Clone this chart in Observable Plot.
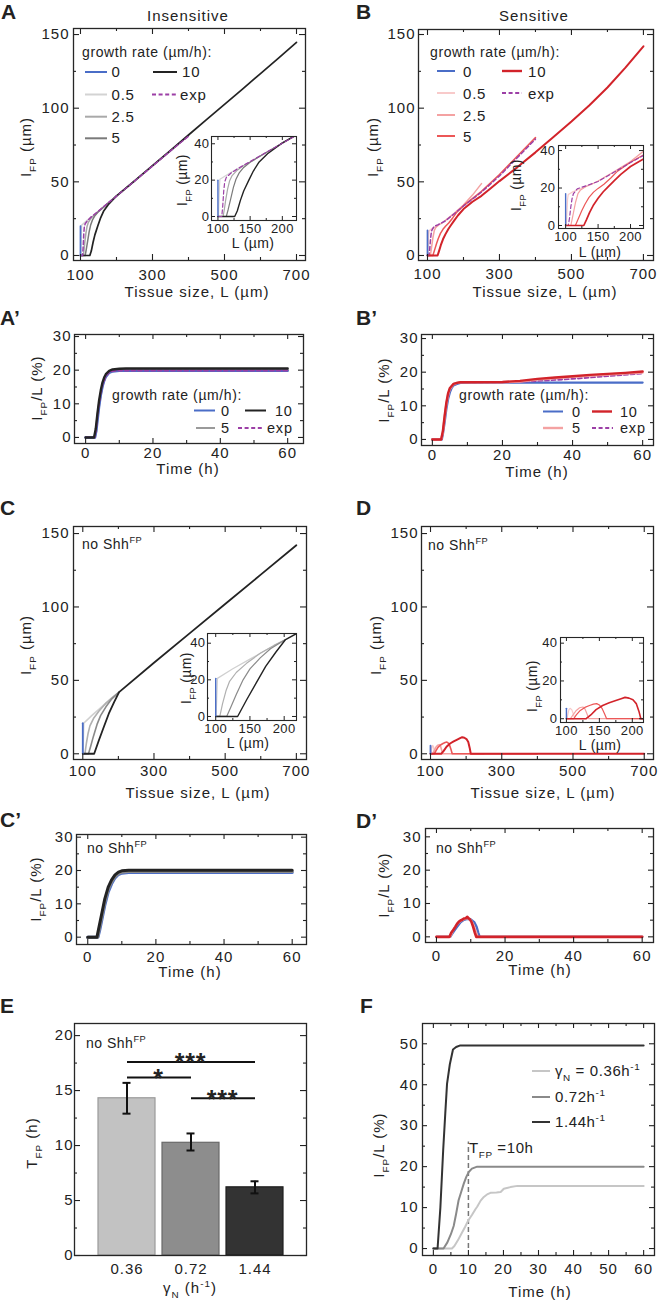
<!DOCTYPE html>
<html><head><meta charset="utf-8">
<script src="https://cdn.jsdelivr.net/npm/d3@7"></script>
<script src="https://cdn.jsdelivr.net/npm/@observablehq/plot@0.6"></script>
<style>
html,body{margin:0;padding:0;background:#fff;}
#fig{position:relative;width:661px;height:1304px;overflow:hidden;background:#fff;}
</style></head><body><div id="fig"></div>
<script>
// ---------- DATA ----------
// A: insensitive, tissue size L (µm) vs I_FP (µm)
const insL_v0 = [[100,0],[100,20]];
const insL_v05 = [[100,0],[100.8,0],[101.5,8],[102.3,16],[103,20.5],[110,22],[120,24.2],[130,26.3]];
const insL_v25 = [[100,0],[108,0],[110,4],[112,9],[115,15],[118,19.5],[122,22.5],[130,25.5],[140,28],[150,30],[175,35.2],[200,40.3],[225,45.4],[250,50.5]];
const insL_v5 = [[100,0],[113,0],[116,4],[120,10],[124,16],[128,20.5],[133,24],[140,27],[150,29.8],[160,32],[175,35.2],[200,40.3],[250,50.5],[300,60.8],[350,71],[400,81.3]];
const insL_v10 = [[100,0],[126,0],[130,3],[135,9],[140,14],[148,20],[155,25],[164,30],[177,34.5],[200,40.5],[250,50.6],[300,61],[350,71.3],[400,81.8],[450,92.2],[500,102.6],[550,113],[600,123.5],[650,134],[700,144.7]];
const insL_exp = [[100,0],[106,0],[107.5,6],[109,14],[110.5,19],[113,21.5],[120,23.8],[130,26.2],[150,30.2],[175,35.3],[200,40.3],[250,50.5],[300,60.7],[350,71],[400,81]];
// B: sensitive, L vs I_FP
const senL_v0 = [[100,0],[100,17]];
const senL_v05 = [[100,0],[101,0],[102,7],[103,14],[104,16.5],[110,17.8],[120,19.2],[130,20.5]];
const senL_v25 = [[100,0],[108,0],[111,5],[115,12],[119,17],[123,19],[130,20.6],[140,22],[150,23.8],[175,28.8],[200,34.2],[225,41],[250,48.8]];
const senL_v5 = [[100,0],[115,0],[120,4],[125,8],[130,11.5],[136,15],[143,17.8],[150,19.8],[159,22],[170,25.5],[180,29],[200,33.8],[250,43.5],[300,55],[350,67.5],[400,80]];
const senL_v10 = [[100,0],[128,0],[132,3],[137,7],[143,11],[150,14.5],[158,18],[165,20.5],[175,24],[185,27.3],[200,31.5],[225,36.5],[250,40.5],[275,45.5],[300,50.5],[350,60],[400,70],[450,80.5],[500,91],[550,102],[600,114],[650,127.5],[700,142]];
const senL_exp = [[100,0],[104,0],[106,4],[108,10],[110,14.5],[112,17],[118,19.6],[130,21],[150,23.5],[175,28.5],[200,33.6],[250,43],[300,54],[350,66.5],[400,79]];
// A': insensitive, time (h) vs I_FP/L (%)
const insT_v0 = [[0,0],[2.8,0],[3.2,2],[3.6,5.5],[4,9],[4.5,12.5],[5,15],[5.5,16.8],[6,18],[7,19.2],[8,19.6],[10,19.8],[60,19.8]];
const insT_v5 = [[0,0],[2.7,0],[3.1,2],[3.5,6],[4,9.8],[4.5,13],[5,15.5],[5.5,17.2],[6,18.3],[7,19.4],[8,19.8],[10,20],[60,20]];
const insT_v10 = [[0,0],[2.5,0],[3,2.5],[3.5,7],[4,11],[4.5,14],[5,16.3],[5.5,17.8],[6,18.8],[7,19.8],[8,20.2],[10,20.4],[12,20.5],[60,20.5]];
const insT_exp = [[0,0],[2.7,0],[3.1,2],[3.5,6],[4,9.8],[4.5,13],[5,15.5],[6,18.2],[7,19.3],[8,19.7],[10,19.9],[60,19.9]];
// B': sensitive, time vs I_FP/L
const senT_v0 = [[0,0],[2.7,0],[3,1.5],[3.5,5],[4,9],[4.5,12],[5,14],[5.5,15.3],[6,16],[7,16.5],[8,16.8],[10,16.9],[60,16.9]];
const senT_v5 = [[0,0],[2.5,0],[3,2],[3.5,6.5],[4,10.5],[4.5,13.3],[5,15],[6,16.4],[7,16.8],[8,17],[10,17],[20,17],[25,17.2],[30,17.8],[40,18.6],[50,19.3],[60,19.9]];
const senT_v10 = [[0,0],[2.5,0],[3,2.5],[3.5,7],[4,11],[4.5,13.8],[5,15.3],[6,16.5],[7,16.8],[8,17],[10,17],[20,17.1],[25,17.4],[30,18],[35,18.4],[40,18.8],[45,19.2],[50,19.5],[55,19.8],[60,20.2]];
const senT_exp = [[0,0],[2.7,0],[3,2],[3.5,6.5],[4,10.5],[5,15],[6,16.4],[8,17],[20,17],[25,17.1],[30,17.4],[40,18],[50,18.8],[60,19.6]];
// C: no Shh^FP, insensitive, L vs I_FP
const noInsL_v0 = [[100,0],[100,20.8]];
const noInsL_v05 = [[100,0],[100.5,0],[101.5,10],[102.5,20.8],[125,26],[150,31.3],[175,36.6],[202,42]];
const noInsL_v25 = [[100,0],[106,0],[110,7],[115,14],[120,19],[130,24],[145,29],[165,34.5],[185,38.8],[202,42]];
const noInsL_v5 = [[100,0],[116,0],[122,5],[130,12],[140,20],[150,26],[165,32],[180,37],[202,42]];
const noInsL_v10 = [[100,0],[132,0],[145,9],[159,18.2],[173,27.3],[188,35.2],[202,42],[300,62],[400,82],[500,102],[600,122],[700,142]];
// C': no Shh^FP, insensitive, time
const noInsT_v0 = [[0,0],[3,0],[3.5,2],[4,4.5],[5,9.5],[6,13.5],[7,16],[8,17.8],[9,18.8],[10,19.2],[12,19.4],[60,19.4]];
const noInsT_v5 = [[0,0],[2.9,0],[3.4,2.5],[4,5.5],[5,10.5],[6,14.3],[7,16.6],[8,18.2],[9,19.1],[10,19.5],[12,19.7],[60,19.7]];
const noInsT_v10 = [[0,0],[2.7,0],[3.3,3],[4,6.5],[5,11.5],[6,15],[7,17.2],[8,18.7],[9,19.5],[10,19.9],[12,20.1],[60,20.1]];
// D: no Shh^FP, sensitive, L vs I_FP
const noSenL_v0 = [[100,0],[100,5.5]];
const noSenL_v05 = [[100,0],[101,0],[102.5,3],[104,5],[106,5.5],[108.5,4.5],[111,2],[113,0],[130,0]];
const noSenL_v25 = [[100,0],[106,0],[110,2],[115,4.4],[120,5.8],[125,6.2],[128,5.3],[131,2.8],[134,0],[250,0]];
const noSenL_v5 = [[100,0],[111,0],[115,2],[121,4.4],[128,6],[135,7],[141,7.7],[146,8],[150,7.3],[154,5.5],[158,2.5],[161,0],[400,0]];
const noSenL_v10 = [[100,0],[130,0],[137,2],[145,4.8],[155,7],[165,8.4],[175,9.6],[183,10.6],[189,11.3],[195,10.9],[201,10],[206,8],[210,4],[213,0],[700,0]];
// D': no Shh^FP, sensitive, time
const noSenT_v0 = [[0,0],[4,0],[4.5,0.8],[5,1.6],[6,3],[7,4.4],[8,5.1],[9,5.4],[10,5.2],[11,4.4],[11.7,3],[12.2,1.2],[12.6,0],[60,0]];
const noSenT_v5 = [[0,0],[3.9,0],[4.5,1.2],[5,2.3],[6,3.8],[7,4.8],[8,5.3],[9,5.6],[10,5],[10.8,3.5],[11.5,1.5],[12,0],[60,0]];
const noSenT_v10 = [[0,0],[3.8,0],[4.3,1.2],[5,2.2],[5.5,3],[6,3.9],[6.5,4.5],[7,4.9],[7.5,5.1],[8,5.5],[8.5,5.6],[9,6],[9.3,5.6],[9.7,5.3],[10.2,4.5],[10.7,3],[11.2,1.2],[11.6,0],[60,0]];
// E: T_FP vs gamma_N
const gammaN = ["0.36","0.72","1.44"];
const tFP = [14.3, 10.25, 6.2];
const tFPlo = [12.9, 9.55, 5.65];
const tFPhi = [15.7, 11.1, 6.75];
const sigFrom = ["0.36","0.36","0.72"];
const sigTo = ["1.44","0.72","1.44"];
const sigY = [17.6, 16.2, 14.3];
const sigLabel = ["***","*","***"];
// F: time vs I_FP/L for three gamma_N
const fT036 = [[0,0],[5.3,0],[6,0.6],[7,2],[8,3.6],[9,5.2],[10,6.9],[11,8.2],[12,9.6],[12.5,10.2],[13.5,11.7],[14.4,12.6],[15.5,13.3],[16.3,13.6],[18,13.7],[19.2,13.8],[20.1,14.6],[22,15],[24,15.3],[60,15.3]];
const fT072 = [[0,0],[2.9,0],[4,1.5],[5,3.5],[5.8,5.5],[6.5,8.5],[7.2,11.8],[8,14],[8.7,15.9],[9.4,17.5],[10.1,18.7],[11,19.5],[12.5,20],[60,20]];
const fT144 = [[0,0],[1.2,0],[2,10],[2.8,24],[3.4,33],[3.9,40.2],[4.7,45],[5.6,48.6],[6.5,49.2],[7.7,49.6],[60,49.6]];
const fTmark = [10];
const fTmarkTop = 26;
// ticks
const tickL = [100,300,500,700], minorL = [200,400,600];
const tickI = [0,50,100,150], minorI = [25,75,125];
const tickLin = [100,150,200], minorLin = [125,175];
const tickIin = [0,20,40], minorIin = [10,30];
const tickT = [0,20,40,60], minorT = [10,30,50];
const tickPct = [0,10,20,30], minorPct = [5,15,25];
const tickTF = [0,10,20,30,40,50,60], minorTF = [5,15,25,35,45,55];
const tickPctF = [0,10,20,30,40,50], minorPctF = [5,15,25,35,45];
const tickTE = [0,5,10,15,20], minorTE = [2.5,7.5,12.5,17.5];

// ---------- STYLE ----------
const W = 661, H = 1304;
const FONT = '"Liberation Sans", Arial, Helvetica, sans-serif';
const INK = "#222";
const BLUE = "#4a6dc7", EXPC = "#9c3fa6";
const G05 = "#d3d3d3", G25 = "#a9a9a9", G5 = "#7a7a7a", G10 = "#232323";
const R05 = "#f8caca", R25 = "#f4a2a2", R5 = "#ec5757", R10 = "#d2232a";
const barFill = ["#c2c2c2", "#8d8d8d", "#333333"];
const barStroke = ["#9a9a9a", "#6a6a6a", "#1e1e1e"];
const FIG = document.getElementById("fig");
const P = d => d[0], Q = d => d[1];

function ln(data, stroke, sw = 1.5, extra = {}) {
  return Plot.line(data, {x: P, y: Q, stroke, strokeWidth: sw, strokeLinejoin: "round", ...extra});
}
const dash = {strokeDasharray: "4,2.6"};

function panel(o) {
  const [l, r, t, b] = o.frame;
  const fw = r - l, fh = b - t;
  const M = o.major ?? 6, m = o.minor ?? 3, tw = o.tw ?? 1.1;
  const tk = {stroke: INK, strokeWidth: tw};
  const marks = [];
  if (o.bg) marks.push(Plot.frame({fill: "#fff", stroke: "none"}));
  marks.push(...o.marks);
  const xT = (vals, len) => marks.push(Plot.ruleX(vals, {...tk, insetTop: fh - len}), Plot.ruleX(vals, {...tk, insetBottom: fh - len}));
  const yT = (vals, len) => marks.push(Plot.ruleY(vals, {...tk, insetRight: fw - len}), Plot.ruleY(vals, {...tk, insetLeft: fw - len}));
  if (o.xt) xT(o.xt, M);
  if (o.xm) xT(o.xm, m);
  if (o.yt) yT(o.yt, M);
  if (o.ym) yT(o.ym, m);
  marks.push(Plot.frame({stroke: "#262626", strokeWidth: o.fw ?? 1.3}));
  marks.push(Plot.axisX(o.xl ?? o.xt, {anchor: "bottom", tickSize: 0, tickPadding: o.xpad ?? 8, label: null, fontSize: o.fs ?? 15, fill: INK}));
  marks.push(Plot.axisY(o.yl ?? o.yt, {anchor: "left", tickSize: 0, tickPadding: o.ypad ?? 4, label: null, fontSize: o.fs ?? 15, fill: INK}));
  const svg = Plot.plot({
    width: W, height: H,
    marginLeft: l, marginRight: W - r, marginTop: t, marginBottom: H - b,
    x: o.x, y: o.y, color: o.color,
    style: `position:absolute;left:0;top:0;background:transparent;max-width:none;overflow:visible;font-family:${FONT};letter-spacing:${o.ls ?? 1}px;color:${INK}`,
    marks
  });
  FIG.appendChild(svg);
  return svg;
}

function txt(svg, x, y, parts, o = {}) {
  const size = o.size ?? 15;
  const t = d3.select(svg).append("text")
    .attr("transform", `translate(${x},${y})${o.rotate ? ` rotate(${o.rotate})` : ""}`)
    .attr("text-anchor", o.anchor ?? "start")
    .attr("font-size", size)
    .attr("fill", o.fill ?? INK)
    .style("letter-spacing", (o.ls ?? 0.8) + "px");
  if (o.weight) t.attr("font-weight", o.weight);
  let cur = 0;
  for (const p of [].concat(parts)) {
    const [s, k] = Array.isArray(p) ? p : [p, ""];
    const off = k === "sub" ? 0.33 : k === "sup" ? -0.42 : 0;
    const ts = t.append("tspan").text(s).attr("font-size", k ? (size * 0.66).toFixed(2) : size);
    if (off !== cur) ts.attr("dy", ((off - cur) * size).toFixed(2));
    cur = off;
  }
  return t;
}
function sw(svg, x1, x2, y, color, width = 2, dashed = false) {
  const s = d3.select(svg).append("line").attr("x1", x1).attr("x2", x2).attr("y1", y).attr("y2", y)
    .attr("stroke", color).attr("stroke-width", width);
  if (dashed) s.attr("stroke-dasharray", "4,2.6");
}
const IFP = ["I", ["FP", "sub"], " (µm)"];
const IFPL = ["I", ["FP", "sub"], "/L (%)"];
const NOSHH = ["no Shh", ["FP", "sup"]];

// ---------- PANEL A ----------
const aMarks = (w, clip) => [
  ln(insL_v05, G05, w, {clip}), ln(insL_v25, G25, w, {clip}), ln(insL_v5, G5, w, {clip}),
  ln(insL_v10, G10, w + 0.2, {clip}), ln(insL_exp, EXPC, w, {...dash, clip}), ln(insL_v0, BLUE, w + 0.2, {clip})
];
const svgA = panel({frame: [73, 305, 28, 260], x: {domain: [80.6, 725]}, y: {domain: [-3.4, 154.1]},
  xt: tickL, xm: minorL, yt: tickI, ym: minorI, xpad: 9, ypad: 4, marks: aMarks(1.5, false)});
txt(svgA, 1, 19, "A", {size: 21, weight: "bold", ls: 0});
txt(svgA, 188, 21, "Insensitive", {anchor: "middle", ls: 1});
txt(svgA, 31, 147, IFP, {rotate: -90, anchor: "middle", ls: 1});
txt(svgA, 197, 297, "Tissue size, L (µm)", {anchor: "middle", ls: 1});
txt(svgA, 82, 56.5, "growth rate (µm/h):", {size: 14, ls: 0.6});
[[BLUE, "0", 72, 77.3], [G05, "0.5", 94.5, 100], [G25, "2.5", 116.7, 121.7], [G5, "5", 138.3, 143.3]]
  .forEach(([c, s, y, yb]) => { sw(svgA, 85, 107, y, c); txt(svgA, 111.5, yb, s, {ls: 0.8}); });
sw(svgA, 153, 177, 72, G10); txt(svgA, 182, 77.3, "10", {ls: 0.8});
sw(svgA, 152, 176, 94.5, EXPC, 1.8, true); txt(svgA, 180, 100, "exp", {ls: 0.8});

// ---------- PANEL B ----------
const bMarks = (w, clip) => [
  ln(senL_v05, R05, w, {clip}), ln(senL_v25, R25, w, {clip}), ln(senL_v5, R5, w, {clip}),
  ln(senL_exp, EXPC, w, {...dash, clip}), ln(senL_v10, R10, w + 0.5, {clip}), ln(senL_v0, BLUE, w + 0.2, {clip})
];
const svgB = panel({frame: [418, 653, 29, 260], x: {domain: [75, 728]}, y: {domain: [-3.4, 153.4]},
  xt: tickL, xm: minorL, yt: tickI, ym: minorI, xpad: 8, ypad: 3, marks: bMarks(1.5, false)});
txt(svgB, 356, 19, "B", {size: 21, weight: "bold", ls: 0});
txt(svgB, 534, 21, "Sensitive", {anchor: "middle", ls: 1});
txt(svgB, 378, 147, IFP, {rotate: -90, anchor: "middle", ls: 1});
txt(svgB, 545, 297, "Tissue size, L (µm)", {anchor: "middle", ls: 1});
txt(svgB, 430, 56.5, "growth rate (µm/h):", {size: 14, ls: 0.6});
[[BLUE, "0", 71, 77], [R05, "0.5", 93, 99.3], [R25, "2.5", 115, 120.7], [R5, "5", 136, 141.7]]
  .forEach(([c, s, y, yb]) => { sw(svgB, 437, 455, y, c); txt(svgB, 463, yb, s, {ls: 0.8}); });
sw(svgB, 502, 522, 71, R10, 2.4); txt(svgB, 528, 77, "10", {ls: 0.8});
sw(svgB, 502, 522, 93, EXPC, 1.8, true); txt(svgB, 528, 99.3, "exp", {ls: 0.8});

// ---------- PANEL A' ----------
const svgA2 = panel({frame: [74, 303, 334, 443], x: {domain: [-3.3, 64.7]}, y: {domain: [-1.8, 30.6]},
  xt: tickT, xm: minorT, yt: tickPct, ym: minorPct, major: 5, xpad: 4, ypad: 3,
  marks: [ln(insT_v5, "#9a9a9a", 2.4), ln(insT_v0, BLUE, 2.4), ln(insT_exp, EXPC, 1.8, dash), ln(insT_v10, G10, 2.4)]});
txt(svgA2, 0, 325, "A’", {size: 21, weight: "bold", ls: 0});
txt(svgA2, 42, 388, IFPL, {rotate: -90, anchor: "middle", ls: 1});
txt(svgA2, 188, 474, "Time (h)", {anchor: "middle", ls: 1});
txt(svgA2, 112, 399.5, "growth rate (µm/h):", {size: 14, ls: 0.6});
sw(svgA2, 194, 215, 410.5, BLUE); txt(svgA2, 221, 415.8, "0", {size: 14.5});
sw(svgA2, 245, 266, 410.5, G10); txt(svgA2, 275, 415.8, "10", {size: 14.5});
sw(svgA2, 196, 215, 428, "#9a9a9a"); txt(svgA2, 221, 433.3, "5", {size: 14.5});
sw(svgA2, 238, 264, 428, EXPC, 1.8, true); txt(svgA2, 267, 433.3, "exp", {size: 14.5});

// ---------- PANEL B' ----------
const svgB2 = panel({frame: [421, 653, 334, 445], x: {domain: [-3.1, 63.1]}, y: {domain: [-1.8, 31.2]},
  xt: tickT, xm: minorT, yt: tickPct, ym: minorPct, major: 5, xpad: 4, ypad: 3,
  marks: [ln(senT_v0, BLUE, 2.2), ln(senT_exp, EXPC, 1.8, dash), ln(senT_v5, R25, 2.4), ln(senT_v10, R10, 2.4)]});
txt(svgB2, 356, 325, "B’", {size: 21, weight: "bold", ls: 0});
txt(svgB2, 389, 390, IFPL, {rotate: -90, anchor: "middle", ls: 1});
txt(svgB2, 537, 477, "Time (h)", {anchor: "middle", ls: 1});
txt(svgB2, 459, 399.5, "growth rate (µm/h):", {size: 14, ls: 0.6});
sw(svgB2, 543, 563, 411.5, BLUE); txt(svgB2, 572, 416.8, "0", {size: 14.5});
sw(svgB2, 592, 612, 411.5, R10, 2.4); txt(svgB2, 620, 416.8, "10", {size: 14.5});
sw(svgB2, 543, 563, 428, R25, 2.4); txt(svgB2, 572, 433.3, "5", {size: 14.5});
sw(svgB2, 592, 613, 428, EXPC, 1.8, true); txt(svgB2, 620, 433.3, "exp", {size: 14.5});

// ---------- PANEL C ----------
const cMarks = (w, clip) => [
  ln(noInsL_v05, "#d0d0d0", w, {clip}), ln(noInsL_v25, "#b0b0b0", w, {clip}), ln(noInsL_v5, "#8a8a8a", w, {clip}),
  ln(noInsL_v10, G10, w + 0.2, {clip}), ln(noInsL_v0, BLUE, w + 0.2, {clip})
];
const svgC = panel({frame: [73, 306, 526, 759], x: {domain: [73.9, 728.5]}, y: {domain: [-3.9, 154.8]},
  xt: tickL, xm: minorL, yt: tickI, ym: minorI, xpad: 6, ypad: 4, marks: cMarks(1.6, false)});
txt(svgC, 0, 515, "C", {size: 21, weight: "bold", ls: 0});
txt(svgC, 31, 645, IFP, {rotate: -90, anchor: "middle", ls: 1});
txt(svgC, 198, 798, "Tissue size, L (µm)", {anchor: "middle", ls: 1});
txt(svgC, 82, 549, NOSHH, {size: 14, ls: 0.5});

// ---------- PANEL D ----------
const dMarks = (w, clip) => [
  ln(noSenL_v05, R05, w, {clip}), ln(noSenL_v25, R25, w, {clip}), ln(noSenL_v5, R5, w, {clip}),
  ln(noSenL_v10, R10, w + 0.4, {clip}), ln(noSenL_v0, BLUE, w + 0.2, {clip})
];
const svgD = panel({frame: [421, 653, 526, 759], x: {domain: [74.7, 726]}, y: {domain: [-3.9, 154.8]},
  xt: tickL, xm: minorL, yt: tickI, ym: minorI, xpad: 6, ypad: 3, marks: dMarks(1.6, false)});
txt(svgD, 356, 515, "D", {size: 21, weight: "bold", ls: 0});
txt(svgD, 381, 645, IFP, {rotate: -90, anchor: "middle", ls: 1});
txt(svgD, 543, 798, "Tissue size, L (µm)", {anchor: "middle", ls: 1});
txt(svgD, 428, 550, NOSHH, {size: 14, ls: 0.5});

// ---------- PANEL C' ----------
const svgC2 = panel({frame: [76, 306, 834, 944], x: {domain: [-3.3, 64.2]}, y: {domain: [-2.2, 30.8]},
  xt: tickT, xm: minorT, yt: tickPct, ym: minorPct, major: 5, xpad: 7, ypad: 3,
  marks: [ln(noInsT_v0, BLUE, 3), ln(noInsT_v5, "#8a8a8a", 3), ln(noInsT_v10, G10, 3)]});
txt(svgC2, 0, 827, "C’", {size: 21, weight: "bold", ls: 0});
txt(svgC2, 41, 889, IFPL, {rotate: -90, anchor: "middle", ls: 1});
txt(svgC2, 190, 977, "Time (h)", {anchor: "middle", ls: 1});
txt(svgC2, 87, 853, NOSHH, {size: 14, ls: 0.5});

// ---------- PANEL D' ----------
const svgD2 = panel({frame: [425, 653, 828, 942], x: {domain: [-3.2, 63.3]}, y: {domain: [-1.7, 32.5]},
  xt: tickT, xm: minorT, yt: tickPct, ym: minorPct, major: 5, xpad: 8, ypad: 4,
  marks: [ln(noSenT_v0, BLUE, 2.4), ln(noSenT_v5, R25, 2.4), ln(noSenT_v10, R10, 2.6)]});
txt(svgD2, 356, 828, "D’", {size: 21, weight: "bold", ls: 0});
txt(svgD2, 389, 885, IFPL, {rotate: -90, anchor: "middle", ls: 1});
txt(svgD2, 540, 975, "Time (h)", {anchor: "middle", ls: 1});
txt(svgD2, 436, 853, NOSHH, {size: 14, ls: 0.5});

// ---------- PANEL E ----------
const eRows = gammaN.map((g, i) => ({g, v: tFP[i], lo: tFPlo[i], hi: tFPhi[i], fill: barFill[i], stroke: barStroke[i]}));
const sigRows = sigY.map((y, i) => ({a: sigFrom[i], b: sigTo[i], y, label: sigLabel[i]}));
const svgE = panel({frame: [74, 306, 1023, 1255],
  x: {type: "band", domain: gammaN, paddingInner: 0.11, paddingOuter: 0.34},
  y: {domain: [0, 21.1]}, color: {type: "identity"},
  xl: gammaN, yt: tickTE, ym: minorTE, xpad: 8, ypad: 1,
  marks: [
    Plot.barY(eRows, {x: "g", y: "v", fill: "fill", stroke: "stroke", strokeWidth: 1.2}),
    Plot.ruleX(eRows, {x: "g", y1: "lo", y2: "hi", stroke: "#111", strokeWidth: 2}),
    Plot.tickY(eRows, {x: "g", y: "hi", stroke: "#111", strokeWidth: 2, insetLeft: 24.5, insetRight: 24.5}),
    Plot.tickY(eRows, {x: "g", y: "lo", stroke: "#111", strokeWidth: 2, insetLeft: 24.5, insetRight: 24.5}),
    Plot.link(sigRows, {x1: "a", x2: "b", y1: "y", y2: "y", stroke: "#111", strokeWidth: 2})
  ]});
txt(svgE, 0, 1013, "E", {size: 21, weight: "bold", ls: 0});
txt(svgE, 37, 1143, ["T", ["FP", "sub"], " (h)"], {rotate: -90, anchor: "middle", ls: 1});
txt(svgE, 190, 1293, ["γ", ["N", "sub"], " (h", ["-1", "sup"], ")"], {anchor: "middle", ls: 1});
txt(svgE, 86, 1048, NOSHH, {size: 14, ls: 0.5});
{
  const xs = svgE.scale("x"), ys = svgE.scale("y");
  const half = (xs.bandwidth ?? 0) / 2;
  sigRows.forEach(r => {
    const xm = (xs.apply(r.a) + xs.apply(r.b)) / 2 + half;
    txt(svgE, xm, ys.apply(r.y) + 10, r.label, {anchor: "middle", size: 25, weight: "bold", ls: 0.8});
  });
}

// ---------- PANEL F ----------
const svgF = panel({frame: [422, 654, 1023, 1255], x: {domain: [-3.1, 63.1]}, y: {domain: [-1.7, 54.95]},
  xt: tickTF, xm: minorTF, yt: tickPctF, ym: minorPctF, major: 5, xpad: 8, ypad: 4,
  marks: [
    Plot.ruleX(fTmark, {y1: 0, y2: fTmarkTop, stroke: "#777", strokeWidth: 1.5, strokeDasharray: "5,3"}),
    ln(fT036, "#c6c6c6", 2), ln(fT072, "#8a8a8a", 2), ln(fT144, "#333", 2)
  ]});
txt(svgF, 360, 1013, "F", {size: 21, weight: "bold", ls: 0});
txt(svgF, 384, 1145, IFPL, {rotate: -90, anchor: "middle", ls: 1});
txt(svgF, 540, 1297, "Time (h)", {anchor: "middle", ls: 1});
txt(svgF, 469, 1153, ["T", ["FP", "sub"], " =10h"], {size: 15, ls: 0.6});
sw(svgF, 532, 550, 1071, "#c6c6c6"); txt(svgF, 555, 1076, ["γ", ["N", "sub"], " = 0.36h", ["-1", "sup"]], {size: 15, ls: 0.6});
sw(svgF, 532, 550, 1097, "#8a8a8a"); txt(svgF, 555, 1102, ["0.72h", ["-1", "sup"]], {size: 15, ls: 0.6});
sw(svgF, 532, 550, 1122, "#333"); txt(svgF, 555, 1127, ["1.44h", ["-1", "sup"]], {size: 15, ls: 0.6});

// ---------- INSETS ----------
const inset = (frame, x, y, marks, pads) => panel({frame, x: {domain: x}, y: {domain: y}, bg: true,
  xt: tickLin, xm: minorLin, yt: tickIin, ym: minorIin, major: 4, minor: 2, tw: 1, fw: 1.1,
  fs: 13, ls: 0.4, xpad: pads[0], ypad: pads[1], marks});
const sAi = inset([211, 296, 136, 220], [90, 222], [-2.2, 44], aMarks(1.2, true), [3.5, 2]);
txt(sAi, 187, 180, IFP, {rotate: -90, anchor: "middle", size: 14, ls: 0.4});
txt(sAi, 253, 248, "L (µm)", {anchor: "middle", size: 14, ls: 0.4});
const sBi = inset([558, 643, 145, 228], [89, 220], [-1.6, 42.7], bMarks(1.2, true), [3.5, 3]);
txt(sBi, 521, 185, IFP, {rotate: -90, anchor: "middle", size: 14, ls: 0.4});
txt(sBi, 600, 257, "L (µm)", {anchor: "middle", size: 14, ls: 0.4});
const sCi = inset([207, 296, 633, 720], [88, 218], [-2.2, 45.3], cMarks(1.2, true), [3.5, 2]);
txt(sCi, 191, 678, IFP, {rotate: -90, anchor: "middle", size: 14, ls: 0.4});
txt(sCi, 248, 748, "L (µm)", {anchor: "middle", size: 14, ls: 0.4});
const sDi = inset([560, 643, 637, 722], [91, 217], [-2, 43], dMarks(1.2, true), [3.5, 3]);
txt(sDi, 537, 686, IFP, {rotate: -90, anchor: "middle", size: 14, ls: 0.4});
txt(sDi, 600, 750, "L (µm)", {anchor: "middle", size: 14, ls: 0.4});
</script></body></html>
